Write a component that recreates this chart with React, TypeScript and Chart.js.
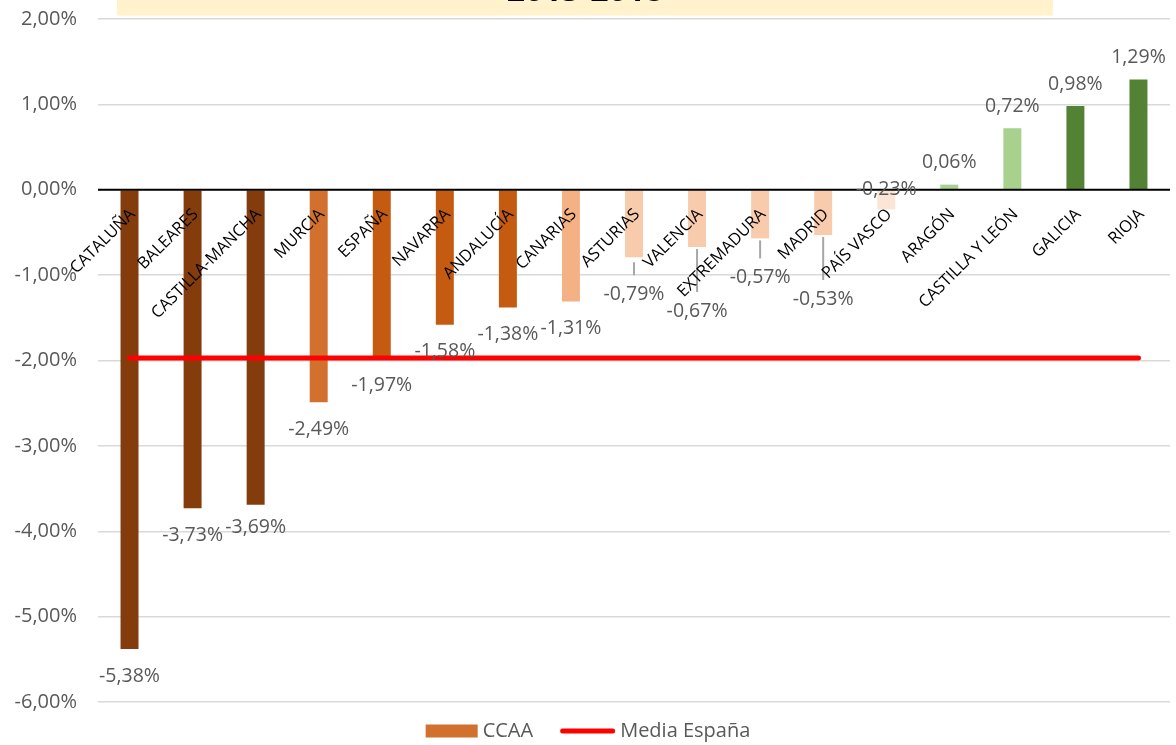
import React, { useEffect, useRef } from 'react';
import { Chart, registerables } from 'chart.js';

Chart.register(...registerables);

// ---------- DATA ----------
const categories: string[] = [
  'CATALUÑA', 'BALEARES', 'CASTILLA-MANCHA', 'MURCIA', 'ESPAÑA', 'NAVARRA',
  'ANDALUCÍA', 'CANARIAS', 'ASTURIAS', 'VALENCIA', 'EXTREMADURA', 'MADRID',
  'PAÍS VASCO', 'ARAGÓN', 'CASTILLA Y LEÓN', 'GALICIA', 'RIOJA',
];
const ccaaValues: number[] = [
  -5.38, -3.73, -3.69, -2.49, -1.97, -1.58, -1.38, -1.31, -0.79, -0.67, -0.57,
  -0.53, -0.23, 0.06, 0.72, 0.98, 1.29,
];
const mediaEspanaValues: number[] = [
  -1.97, -1.97, -1.97, -1.97, -1.97, -1.97, -1.97, -1.97, -1.97, -1.97, -1.97,
  -1.97, -1.97, -1.97, -1.97, -1.97, -1.97,
];
const yTickValues: number[] = [-6, -5, -4, -3, -2, -1, 0, 1, 2];
const seriesNames: string[] = ['CCAA', 'Media España'];
const titleText = '2013-2018';

// ---------- STYLE ----------
const barColors: string[] = [
  '#843C0C', '#843C0C', '#843C0C', '#D2702D', '#C55A11', '#C55A11', '#C55A11',
  '#F4B183', '#F8CBAD', '#F8CBAD', '#F8CBAD', '#F8CBAD', '#FBE5D6', '#A9D18E',
  '#A9D18E', '#548235', '#548235',
];
const legendBarColor = '#D2702D';
const FONT = '"Open Sans", "Noto Sans", sans-serif';
const fmt = (v: number) => v.toFixed(2).replace('.', ',') + '%';

// per-label adjustments (pixels) for data labels
const labelNudge: Record<number, { dy: number; leader?: boolean; start?: number }> = {
  2: { dy: 23 },
  8: { dy: 37, leader: true, start: 5 },
  9: { dy: 64, leader: true },
  10: { dy: 39, leader: true },
  11: { dy: 64, leader: true },
  12: { dy: -20 },
};

const overlayPlugin = {
  id: 'overlay',
  beforeDraw(chart: any) {
    const ctx = chart.ctx;
    ctx.save();
    ctx.fillStyle = '#FFF2CC';
    ctx.fillRect(117, 0, 936, 15.5);
    ctx.fillStyle = '#000000';
    ctx.font = `bold 32px ${FONT}`;
    ctx.textAlign = 'center';
    ctx.textBaseline = 'alphabetic';
    ctx.fillText(titleText, 585, 1);
    ctx.restore();
  },
  afterDatasetsDraw(chart: any) {
    const ctx = chart.ctx;
    const xs = chart.scales.x;
    const ys = chart.scales.y;
    const ca = chart.chartArea;
    const y0 = ys.getPixelForValue(0);
    ctx.save();
    // zero axis line
    ctx.strokeStyle = '#000000';
    ctx.lineWidth = 2;
    ctx.beginPath();
    ctx.moveTo(ca.left, y0);
    ctx.lineTo(ca.right, y0);
    ctx.stroke();

    // data labels
    ctx.font = `19.5px ${FONT}`;
    ctx.textAlign = 'center';
    ctx.textBaseline = 'middle';
    ccaaValues.forEach((v, i) => {
      const cx = xs.getPixelForValue(i);
      const ye = ys.getPixelForValue(v);
      const n = labelNudge[i];
      const dy = n ? n.dy : v < 0 ? 27 : -22;
      const ly = ye + dy;
      if (n && n.leader) {
        ctx.strokeStyle = '#A6A6A6';
        ctx.lineWidth = 2;
        ctx.beginPath();
        ctx.moveTo(cx, ye + (n.start ?? 2));
        ctx.lineTo(cx, ly - 19);
        ctx.stroke();
      }
      ctx.fillStyle = '#595959';
      ctx.fillText(fmt(v), cx, ly);
    });

    // category labels (rotated, at the zero line)
    ctx.font = `16.5px ${FONT}`;
    ctx.fillStyle = '#000000';
    ctx.textAlign = 'right';
    ctx.textBaseline = 'middle';
    categories.forEach((c, i) => {
      const cx = xs.getPixelForValue(i);
      ctx.save();
      ctx.translate(cx + 3, y0 + 22);
      ctx.rotate(-Math.PI / 4);
      ctx.fillText(c, 0, 0);
      ctx.restore();
    });

    // legend
    ctx.font = `20px ${FONT}`;
    ctx.textAlign = 'left';
    ctx.textBaseline = 'middle';
    const boxW = 52, gap = 5, lineW = 55, itemGap = 27;
    const w1 = ctx.measureText(seriesNames[0]).width;
    const w2 = ctx.measureText(seriesNames[1]).width;
    const total = boxW + gap + w1 + itemGap + lineW + gap + w2;
    let lx = chart.width / 2 - total / 2;
    const ly = 731;
    ctx.fillStyle = legendBarColor;
    ctx.fillRect(lx, ly - 6.5, boxW, 13);
    lx += boxW + gap;
    ctx.fillStyle = '#595959';
    ctx.fillText(seriesNames[0], lx, ly);
    lx += w1 + itemGap;
    ctx.strokeStyle = '#FF0000';
    ctx.lineWidth = 5;
    ctx.lineCap = 'round';
    ctx.beginPath();
    ctx.moveTo(lx + 2.5, ly);
    ctx.lineTo(lx + lineW - 2.5, ly);
    ctx.stroke();
    lx += lineW + gap;
    ctx.fillStyle = '#595959';
    ctx.fillText(seriesNames[1], lx, ly);
    ctx.restore();
  },
};

export default function App() {
  const canvasRef = useRef<HTMLCanvasElement | null>(null);

  useEffect(() => {
    if (!canvasRef.current) return;
    const chart = new Chart(canvasRef.current, {
      type: 'bar',
      data: {
        labels: categories,
        datasets: [
          {
            type: 'bar',
            label: seriesNames[0],
            data: ccaaValues,
            backgroundColor: barColors,
            borderWidth: 0,
            categoryPercentage: 1,
            barPercentage: 0.285,
            order: 2,
          } as any,
          {
            type: 'line',
            label: seriesNames[1],
            data: mediaEspanaValues,
            borderColor: '#FF0000',
            backgroundColor: '#FF0000',
            borderWidth: 5,
            borderCapStyle: 'round',
            pointRadius: 0,
            fill: false,
            order: 1,
          } as any,
        ],
      },
      options: {
        animation: false,
        responsive: true,
        maintainAspectRatio: false,
        devicePixelRatio: 1,
        layout: { padding: { left: 0, right: 6, top: 19, bottom: 43 } },
        plugins: {
          legend: { display: false },
          tooltip: { enabled: false },
          title: { display: false },
        },
        scales: {
          x: {
            type: 'category',
            display: false,
            offset: true,
          },
          y: {
            min: -6,
            max: 2,
            afterBuildTicks: (scale: any) => {
              scale.ticks = yTickValues.map((v) => ({ value: v }));
            },
            afterFit: (scale: any) => {
              scale.width = 98;
              scale.paddingTop = 0;
              scale.paddingBottom = 0;
            },
            ticks: {
              callback: (v: any) => fmt(Number(v)),
              color: '#595959',
              font: { family: FONT, size: 20 },
              padding: 21,
            },
            grid: {
              color: '#D9D9D9',
              lineWidth: 1.5,
              drawTicks: false,
            },
            border: { display: false },
          },
        },
      } as any,
      plugins: [overlayPlugin],
    });
    return () => chart.destroy();
  }, []);

  return (
    <div
      style={{
        position: 'fixed',
        left: 0,
        top: 0,
        width: 1176,
        height: 745,
        background: '#FFFFFF',
      }}
    >
      <canvas ref={canvasRef} />
    </div>
  );
}
